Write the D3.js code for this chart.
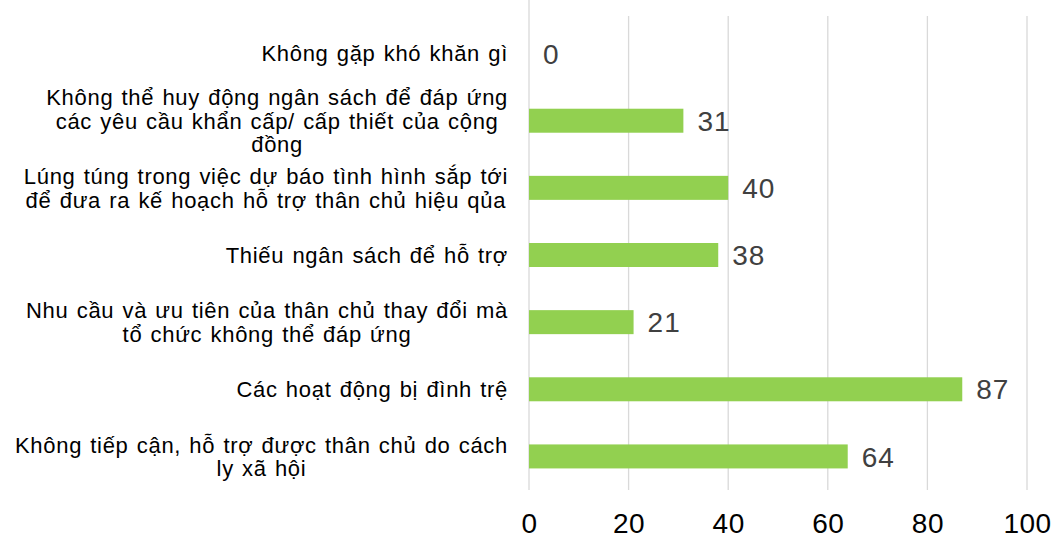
<!DOCTYPE html>
<head>
  <meta charset="utf-8">
  <title>Khó khăn của tổ chức</title>
  <style>
    body { margin: 0; background: #fff; }
    text { font-family: "Liberation Sans", Arial, sans-serif; }
  </style>
</head>
<body>
<svg width="1057" height="536"></svg>
<script src="https://d3js.org/d3.v7.min.js"></script>
<script>

// categories, top to bottom ("\n" = line break as in the original labels)
var categories = [
  "Không gặp khó khăn gì",
  "Không thể huy động ngân sách để đáp ứng\ncác yêu cầu khẩn cấp/ cấp thiết của cộng\nđồng",
  "Lúng túng trong việc dự báo tình hình sắp tới\nđể đưa ra kế hoạch hỗ trợ thân chủ hiệu qủa",
  "Thiếu ngân sách để hỗ trợ",
  "Nhu cầu và ưu tiên của thân chủ thay đổi mà\ntổ chức không thể đáp ứng",
  "Các hoạt động bị đình trệ",
  "Không tiếp cận, hỗ trợ được thân chủ do cách\nly xã hội"
];
var values = [0, 31, 40, 38, 21, 87, 64];
var xTicks = [0, 20, 40, 60, 80, 100];

var svg = d3.select("svg"),
    plotLeft = 529, plotRight = 1027, plotTop = 20, plotBottom = 490, gridTop = 16;

var x = d3.scaleLinear().domain([0, 100]).range([plotLeft, plotRight]);
var y = d3.scaleBand().domain(d3.range(categories.length)).range([plotTop, plotBottom]);

var barH = 24;

// gridlines (the zero line runs up to the top edge)
svg.append("g").selectAll("line")
  .data(xTicks)
  .join("line")
    .attr("x1", function(d) { return x(d); })
    .attr("x2", function(d) { return x(d); })
    .attr("y1", function(d) { return d === 0 ? 0 : gridTop; })
    .attr("y2", plotBottom)
    .attr("stroke", "#d9d9d9")
    .attr("stroke-width", 1.3);

// x axis labels
var xAxis = d3.axisBottom(x).tickValues(xTicks).tickSize(0).tickPadding(0);
var gx = svg.append("g")
    .attr("transform", "translate(0,533)")
    .call(xAxis)
    .attr("font-family", null)
    .attr("font-size", null);
gx.select(".domain").remove();
gx.selectAll("text")
    .attr("dy", 0)
    .attr("y", 0)
    .attr("fill", "#000")
    .style("font-size", "28px")
    .style("letter-spacing", "0.5px");

// bars
svg.append("g").selectAll("rect")
  .data(values)
  .join("rect")
    .attr("x", x(0))
    .attr("y", function(d, i) { return y(i) + y.bandwidth() / 2 - barH / 2; })
    .attr("width", function(d) { return x(d) - x(0); })
    .attr("height", barH)
    .attr("fill", "#92d050");

// value labels
svg.append("g").selectAll("text")
  .data(values)
  .join("text")
    .attr("x", function(d) { return x(d) + 14; })
    .attr("y", function(d, i) { return y(i) + y.bandwidth() / 2; })
    .attr("dy", "0.36em")
    .attr("fill", "#404040")
    .style("font-size", "28px")
    .style("letter-spacing", "1px")
    .text(function(d) { return d; });

// category labels: lines centred on each other, block right-aligned
var labelRight = 508, lineH = 23.5;
var cat = svg.append("g").selectAll("g")
  .data(categories)
  .join("g");

cat.each(function(d, i) {
  var g = d3.select(this);
  var lines = d.split("\n");
  var texts = g.selectAll("text")
    .data(lines)
    .join("text")
      .attr("fill", "#000")
      .style("font-size", "22px")
      .style("letter-spacing", "0.7px")
      .style("word-spacing", "1.4px")
      .attr("text-anchor", "middle")
      .text(function(t) { return t; });
  var w = 0;
  texts.each(function() { w = Math.max(w, this.getComputedTextLength()); });
  var cy = y(i) + y.bandwidth() / 2 - (lines.length - 1) * lineH / 2;
  texts
    .attr("x", labelRight - w / 2)
    .attr("y", function(t, j) { return cy + j * lineH; })
    .attr("dy", "0.36em");
});

</script>
</body>
